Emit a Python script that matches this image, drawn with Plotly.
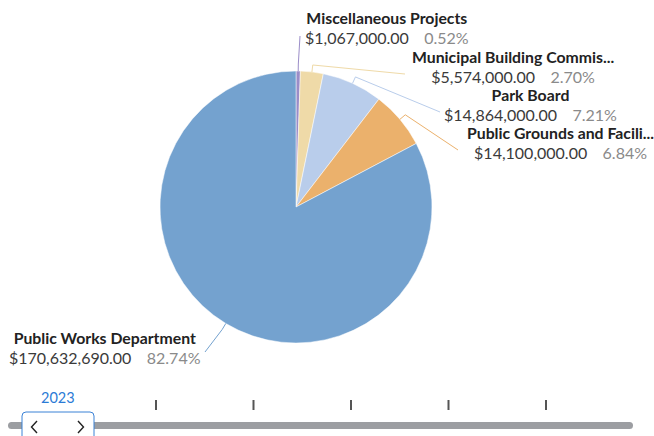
import math
import plotly.graph_objects as go

# ---- data ----
departments = ["Miscellaneous Projects", "Municipal Building Commission", "Park Board",
               "Public Grounds and Facilities", "Public Works Department"]
display_names = ["Miscellaneous Projects", "Municipal Building Commis...", "Park Board",
                 "Public Grounds and Facili...", "Public Works Department"]
amounts = [1067000.00, 5574000.00, 14864000.00, 14100000.00, 170632690.00]
colors = ["#9b8dc8", "#efdaa8", "#b9cdeb", "#ebb16c", "#74a2cf"]
years = ["2023"]

# ---- layout constants (pixels) ----
W, H = 654, 436
cx, cy, R = 296, 207, 136
# label block centre x, centre y of name line, and leader-line end point
label_pos = [(387, 16), (513, 55), (530, 93), (560, 131), (105, 336)]
line_end = [(300, 36), (405, 74), (440, 112), (458, 150), (205, 352)]


def px(x, y):
    return x / W, 1 - y / H


total = sum(amounts)
pcts = [a / total * 100 for a in amounts]

fig = go.Figure()
fig.add_trace(go.Pie(
    labels=departments, values=amounts, sort=False, direction="clockwise", rotation=0,
    marker=dict(colors=colors, line=dict(color="white", width=0.5)),
    textinfo="none", hoverinfo="label+value+percent", showlegend=False,
    domain=dict(x=[(cx - R) / W, (cx + R) / W], y=[1 - (cy + R) / H, 1 - (cy - R) / H]),
))

shapes = []
annotations = []
cum = 0.0
for i, (name, amt, pct) in enumerate(zip(display_names, amounts, pcts)):
    mid = (cum + pct / 2) / 100 * 2 * math.pi
    cum += pct
    p0 = (cx + R * math.sin(mid), cy - R * math.cos(mid))
    p1 = (cx + (R + 7) * math.sin(mid), cy - (R + 7) * math.cos(mid))
    p2 = line_end[i]
    path = "M {} {} L {} {} L {} {}".format(*px(*p0), *px(*p1), *px(*p2))
    shapes.append(dict(type="path", path=path, xref="paper", yref="paper",
                       line=dict(color=colors[i], width=1)))
    lx, ly = label_pos[i]
    txt = ("<span style='font-size:15.8px'><b>{}</b></span><br>"
           "<span style='font-size:16px;color:#3a3a3a'>${:,.2f}</span>"
           "&nbsp;&nbsp;&nbsp;&nbsp;<span style='font-size:16px;color:#8a8a8a'>{:.2f}%</span>"
           ).format(name, amt, pct)
    ax_, ay_ = px(lx, ly - 10)
    annotations.append(dict(text=txt, x=ax_, y=ay_, xref="paper", yref="paper",
                            xanchor="center", yanchor="top", showarrow=False, align="center",
                            font=dict(family="Lato", size=15, color="#222")))

# ---- year slider (drawn) ----
tx0, tx1, t0, t1 = 8, 633, 422, 429
shapes.append(dict(type="path", xref="paper", yref="paper",
                   path="M {} {} L {} {} Q {} {} {} {} Q {} {} {} {} L {} {} Q {} {} {} {} Q {} {} {} {} Z".format(
                       *px(tx0 + 3.5, t0), *px(tx1 - 3.5, t0),
                       *px(tx1, t0), *px(tx1, (t0 + t1) / 2), *px(tx1, t1), *px(tx1 - 3.5, t1),
                       *px(tx0 + 3.5, t1),
                       *px(tx0, t1), *px(tx0, (t0 + t1) / 2), *px(tx0, t0), *px(tx0 + 3.5, t0)),
                   fillcolor="#9c9ea2", line=dict(width=0)))
for k in range(1, 6):
    xt = 58.5 + k * 97.5
    shapes.append(dict(type="line", xref="paper", yref="paper",
                       x0=px(xt, 0)[0], x1=px(xt, 0)[0], y0=px(0, 400)[1], y1=px(0, 410)[1],
                       line=dict(color="#555", width=2)))
# handle box
shapes.append(dict(type="path", xref="paper", yref="paper",
                   path="M {} {} L {} {} Q {} {} {} {} L {} {} Q {} {} {} {} L {} {} Z".format(
                       *px(22, 440), *px(22, 416), *px(22, 412), *px(26, 412),
                       *px(90, 412), *px(94, 412), *px(94, 416), *px(94, 440)),
                   fillcolor="white", line=dict(color="#3b82d6", width=1)))
# chevrons
shapes.append(dict(type="path", xref="paper", yref="paper",
                   path="M {} {} L {} {} L {} {}".format(*px(37, 421), *px(31.5, 427), *px(37, 433)),
                   line=dict(color="#222", width=1.4)))
shapes.append(dict(type="path", xref="paper", yref="paper",
                   path="M {} {} L {} {} L {} {}".format(*px(78, 421), *px(83.5, 427), *px(78, 433)),
                   line=dict(color="#222", width=1.4)))
annotations.append(dict(text=years[0], x=px(57.5, 0)[0], y=px(0, 397.5)[1], xref="paper", yref="paper",
                        xanchor="center", yanchor="middle",
                        showarrow=False, font=dict(family="Lato", size=14.5, color="#2b7bd6")))

fig.update_layout(width=W, height=H, margin=dict(l=0, r=0, t=0, b=0),
                  paper_bgcolor="white", plot_bgcolor="white",
                  shapes=shapes, annotations=annotations)
fig.write_html("out.html", config={"displayModeBar": False},
               post_script="document.body.style.margin='0';document.body.style.overflow='hidden';")
